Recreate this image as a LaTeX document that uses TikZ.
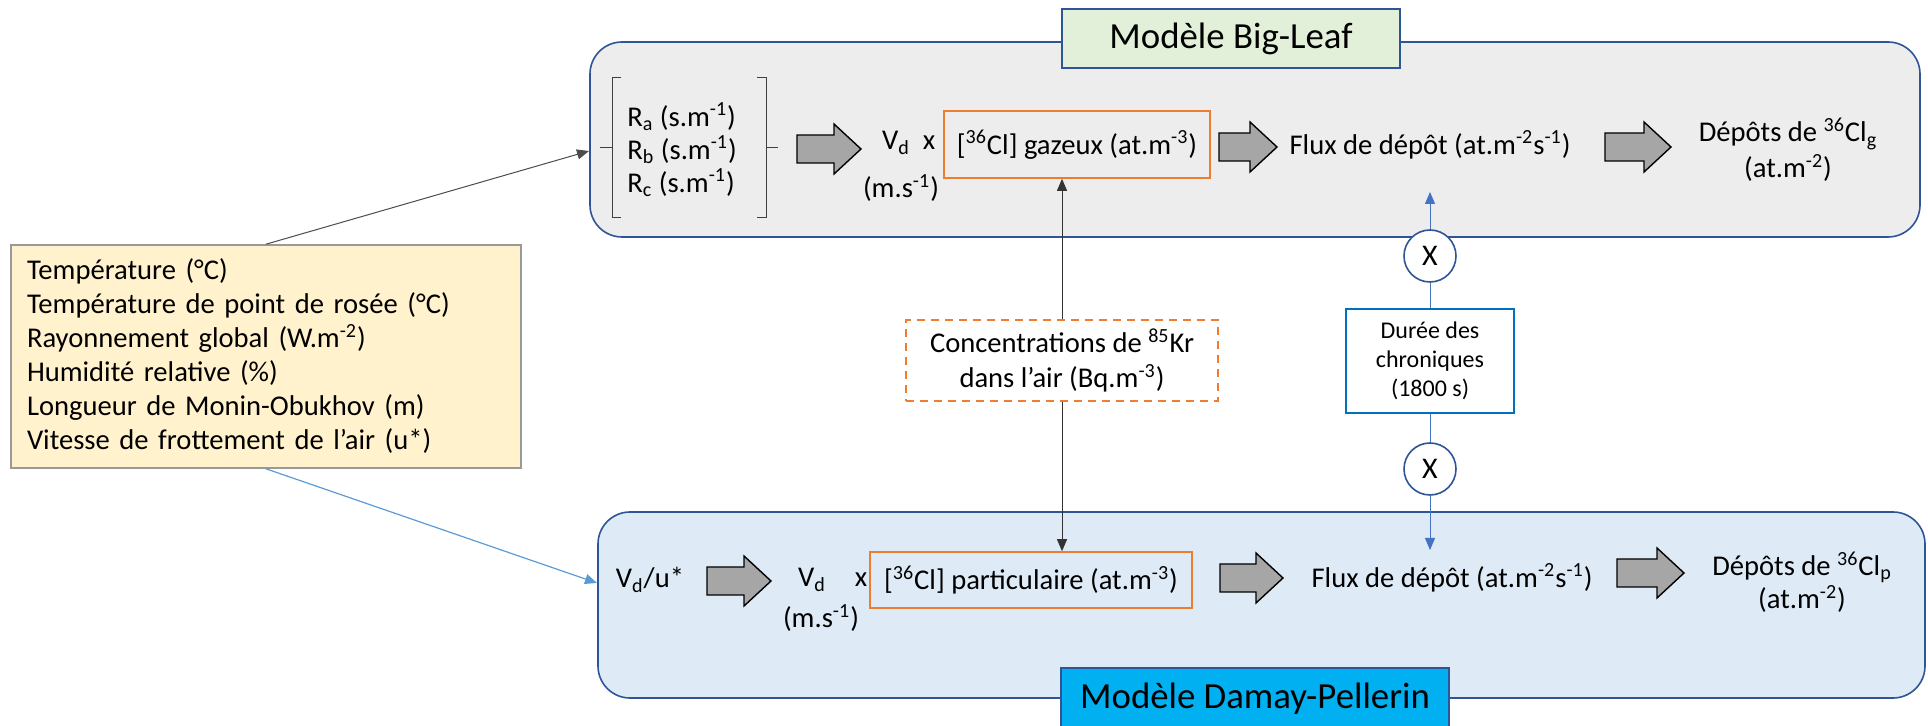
\documentclass[tikz,border=0pt]{standalone}
\usepackage{fontspec}
\setmainfont{Carlito}
\usetikzlibrary{arrows.meta,calc}
\definecolor{dblue}{HTML}{2F5597}
\definecolor{lblue}{HTML}{4472C4}
\definecolor{sblue}{HTML}{5B9BD5}
\definecolor{mblue}{HTML}{0070C0}
\definecolor{cyanbox}{HTML}{00B0F0}
\definecolor{greyfill}{HTML}{EDEDED}
\definecolor{greenfill}{HTML}{E2F0D9}
\definecolor{bluefill}{HTML}{DEEBF7}
\definecolor{yellowfill}{HTML}{FFF2CC}
\definecolor{orangeb}{HTML}{ED7D31}
\definecolor{arrowgrey}{HTML}{A6A6A6}
\newcommand\mainsize{\fontsize{14.3}{17}\selectfont}
\newcommand\blockarr[3]{\draw[barrow] (#1,#3-14) -- (#2-27,#3-14) -- (#2-27,#3-25) -- (#2,#3) -- (#2-27,#3+25) -- (#2-27,#3+14) -- (#1,#3+14) -- cycle;}
\begin{document}
\begin{tikzpicture}[x=0.5pt,y=-0.5pt,
  every node/.style={font=\mainsize, inner sep=0pt},
  panel/.style={draw=dblue, line width=0.8pt, rounded corners=16pt},
  titlebox/.style={draw=dblue, line width=0.9pt, font=\fontsize{18.4}{22}\selectfont},
  obox/.style={draw=orangeb, line width=0.8pt},
  barrow/.style={draw=black, fill=arrowgrey, line width=0.7pt, line join=miter},
  circ/.style={circle, draw=dblue, fill=white, line width=0.8pt, minimum size=26pt, font=\fontsize{15}{18}\selectfont},
  bline/.style={draw=lblue, line width=0.5pt},
  brk/.style={draw=black!75, line width=0.5pt}
]
\useasboundingbox (0,0) rectangle (1928,726);
% panels
\node[panel, fill=greyfill, minimum width=665pt, minimum height=97.5pt] (bl) at (1255,139.5) {};
\node[panel, fill=bluefill, minimum width=663.5pt, minimum height=93pt] (dp) at (1261.5,605) {};
\node[titlebox, fill=greenfill, minimum width=169pt, minimum height=29.5pt] (t1) at (1231,38.5) {Modèle Big-Leaf};
\node[titlebox, fill=cyanbox, minimum width=194pt, minimum height=31pt] (t2) at (1255,699) {Modèle Damay-Pellerin};
% left box
\node[draw=black!40, line width=0.8pt, fill=yellowfill, text width=239pt, inner xsep=8pt, align=left, minimum height=111.5pt] (lb) at (266,356.5)
 {Température (°C)\\Température de point de rosée (°C)\\Rayonnement global (W.m\textsuperscript{-2})\\Humidité relative (\%)\\Longueur de Monin-Obukhov (m)\\Vitesse de frottement de l’air (u*)};
\coordinate (tbL) at (589,151);
\coordinate (bbL) at (597,583);
\draw[draw=black!70, line width=0.5pt, -{Triangle[width=5pt,length=6pt]}] (lb.north) -- (tbL);
\draw[draw=sblue, line width=0.6pt, -{Triangle[width=5pt,length=6pt]}] (lb.south) -- (bbL);
% top row
\node[align=left, anchor=west, font=\fontsize{14.3}{16.5}\selectfont] (rr) at (627,150) {R\textsubscript{a} (s.m\textsuperscript{-1})\\R\textsubscript{b} (s.m\textsuperscript{-1})\\R\textsubscript{c} (s.m\textsuperscript{-1})};
\draw[brk] (621,78) -| (612,148) -- (600,148);
\draw[brk] (612,148) |- (621,218);
\draw[brk] (757,78) -| (766,148) -- (778,148);
\draw[brk] (766,148) |- (757,218);
\blockarr{797}{861}{149}
\node (vd1) at (896,143) {V\textsubscript{d}};
\node (mu1) at (901,188) {(m.s\textsuperscript{-1})};
\node (x1) at (929,143) {x};
\node[obox, minimum width=133pt, minimum height=33.5pt] (gz) at (1077,144.5) {[\textsuperscript{36}Cl] gazeux (at.m\textsuperscript{-3})};
\blockarr{1219}{1277}{147}
\node (fl1) at (1430,145) {Flux de dépôt (at.m\textsuperscript{-2}s\textsuperscript{-1})};
\blockarr{1605}{1671}{147}
\node[align=center, font=\fontsize{14.3}{18}\selectfont] (dg) at (1788,150) {Dépôts de \textsuperscript{36}Cl\textsubscript{g}\\(at.m\textsuperscript{-2})};
% bottom row
\node (vu) at (650,580) {V\textsubscript{d}/u*};
\blockarr{707}{771}{581}
\node (vd2) at (812,580) {V\textsubscript{d}};
\node (mu2) at (821,618) {(m.s\textsuperscript{-1})};
\node (x2) at (861,580) {x};
\node[obox, minimum width=161pt, minimum height=28pt] (pt) at (1031,580) {[\textsuperscript{36}Cl] particulaire (at.m\textsuperscript{-3})};
\blockarr{1220}{1283}{578}
\node (fl2) at (1452,578) {Flux de dépôt (at.m\textsuperscript{-2}s\textsuperscript{-1})};
\blockarr{1617}{1684}{573}
\node[align=center, font=\fontsize{14.3}{15}\selectfont] (dpp) at (1802,582) {Dépôts de \textsuperscript{36}Cl\textsubscript{p}\\(at.m\textsuperscript{-2})};
% middle
\node[obox, dashed, dash pattern=on 4pt off 3pt, fill=white, minimum width=156pt, minimum height=40.5pt, align=center, font=\fontsize{14.3}{17.5}\selectfont] (kr) at (1062,360.5) {Concentrations de \textsuperscript{85}Kr\\dans l’air (Bq.m\textsuperscript{-3})};
\draw[draw=black!80, line width=0.5pt, -{Triangle[width=5pt,length=6pt]}] (kr.north) -- (kr.north |- gz.south);
\draw[draw=black!80, line width=0.5pt, -{Triangle[width=5pt,length=6pt]}] (kr.south) -- (kr.south |- pt.north);
\node[circ] (c1) at (1430,256) {X};
\node[draw=mblue, line width=0.9pt, fill=white, minimum width=84pt, minimum height=52pt, align=center, font=\fontsize{12}{14.5}\selectfont] (du) at (1430,361) {Durée des\\chroniques\\(1800 s)};
\node[circ] (c2) at (1430,469) {X};
\coordinate (up) at (1430,192);
\coordinate (dn) at (1430,550);
\draw[bline, -{Triangle[width=5pt,length=6pt]}] (c1.north) -- (up);
\draw[bline] (c1.south) -- (du.north);
\draw[bline] (du.south) -- (c2.north);
\draw[bline, -{Triangle[width=5pt,length=6pt]}] (c2.south) -- (dn);
\end{tikzpicture}
\end{document}
